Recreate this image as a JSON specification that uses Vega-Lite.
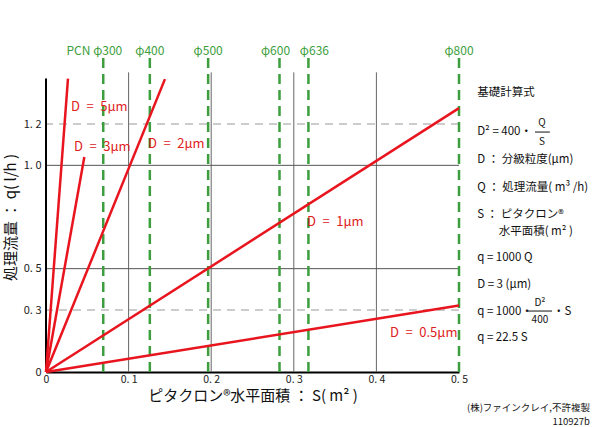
{
  "$schema": "https://vega.github.io/schema/vega-lite/v6.json",
  "width": 413,
  "height": 310,
  "autosize": {"type": "none"},
  "padding": {"left": 46, "top": 62, "right": 141, "bottom": 55},
  "background": "white",
  "config": {
    "view": {"stroke": null},
    "font": "Noto Sans CJK JP",
    "text": {"font": "Noto Sans CJK JP"}
  },
  "datasets": {
    "lines": [
      {"D": "5", "S": 0, "q": 0}, {"D": "5", "S": 0.0266, "q": 1.42},
      {"D": "3", "S": 0, "q": 0}, {"D": "3", "S": 0.0464, "q": 1.04},
      {"D": "2", "S": 0, "q": 0}, {"D": "2", "S": 0.144, "q": 1.417},
      {"D": "1", "S": 0, "q": 0}, {"D": "1", "S": 0.5, "q": 1.277},
      {"D": "0.5", "S": 0, "q": 0}, {"D": "0.5", "S": 0.5, "q": 0.322}
    ],
    "lineLabels": [
      {"label": "D\u2002=\u20025μm", "S": 0.0303, "q": 1.282},
      {"label": "D\u2002=\u20023μm", "S": 0.0339, "q": 1.089},
      {"label": "D\u2002=\u20022μm", "S": 0.1235, "q": 1.103},
      {"label": "D\u2002=\u20021μm", "S": 0.316, "q": 0.726},
      {"label": "D\u2002=\u20020.5μm", "S": 0.4165, "q": 0.189}
    ],
    "pcn": [
      {"name": "φ300", "S": 0.0693},
      {"name": "φ400", "S": 0.1257},
      {"name": "φ500", "S": 0.1963},
      {"name": "φ600", "S": 0.2827},
      {"name": "φ636", "S": 0.3177},
      {"name": "φ800", "S": 0.5}
    ],
    "notes": [
      {"t": "基礎計算式", "S": 0.522, "q": 1.35},
      {"t": "D² = 400・", "S": 0.522, "q": 1.161},
      {"t": "D ： 分級粒度(μm)", "S": 0.522, "q": 1.026},
      {"t": "Q ： 処理流量( m³ /h)", "S": 0.522, "q": 0.89},
      {"t": "S ： ピタクロン®", "S": 0.522, "q": 0.76},
      {"t": "水平面積( m² )", "S": 0.548, "q": 0.677},
      {"t": "q = 1000 Q", "S": 0.522, "q": 0.552},
      {"t": "D = 3 (μm)", "S": 0.522, "q": 0.421},
      {"t": "q = 1000・", "S": 0.522, "q": 0.29},
      {"t": "・S", "S": 0.6138, "q": 0.29},
      {"t": "q = 22.5 S", "S": 0.522, "q": 0.164}
    ],
    "fracs": [
      {"t": "Q", "S": 0.6005, "q": 1.207},
      {"t": "S", "S": 0.6005, "q": 1.115},
      {"t": "D²", "S": 0.598, "q": 0.333},
      {"t": "400", "S": 0.598, "q": 0.254}
    ],
    "bars": [
      {"S": 0.592, "S2": 0.61, "q": 1.161},
      {"S": 0.5835, "S2": 0.6126, "q": 0.295}
    ],
    "credits": [
      {"t": "(株)ファインクレイ,不許複製", "S": 0.6586, "q": -0.176},
      {"t": "110927b", "S": 0.6586, "q": -0.24}
    ],
    "gridSolid": [{"q": 1.0}, {"q": 0.5}],
    "gridDashed": [{"q": 1.2}, {"q": 0.3}],
    "gridV": [{"S": 0.1}, {"S": 0.2}, {"S": 0.3}, {"S": 0.4}]
  },
  "layer": [
    {
      "data": {"name": "gridV"},
      "mark": {"type": "rule", "color": "#666666", "strokeWidth": 1},
      "encoding": {
        "x": {"field": "S", "type": "quantitative", "scale": {"domain": [0, 0.5], "nice": false},
          "axis": {
            "values": [0, 0.1, 0.2, 0.3, 0.4, 0.5],
            "labelExpr": "datum.value == 0 ? '0' : replace(format(datum.value, '.1f'), '.', '. ')",
            "ticks": false, "grid": false,
            "domainColor": "#000000", "domainWidth": 2,
            "labelFontSize": 10.5, "labelColor": "#222222", "labelPadding": 2,
            "labelFlush": false,
            "title": "ピタクロン®水平面積 ： S( m² )",
            "titleFontSize": 15, "titleFontWeight": "normal", "titleColor": "#111111", "titlePadding": 4
          }},
        "y": {"datum": 0, "type": "quantitative", "scale": {"domain": [0, 1.5], "nice": false},
          "axis": {
            "values": [0, 0.3, 0.5, 1.0, 1.2],
            "labelExpr": "datum.value == 0 ? '0' : replace(format(datum.value, '.1f'), '.', '. ')",
            "ticks": false, "grid": false, "domain": false,
            "labelFontSize": 11, "labelColor": "#222222", "labelPadding": 5,
            "labelFlush": false,
            "title": "処理流量 ： q( l/h )",
            "titleFontSize": 15, "titleFontWeight": "normal", "titleColor": "#111111", "titlePadding": 5
          }},
        "y2": {"datum": 1.45}
      }
    },
    {
      "data": {"name": "gridSolid"},
      "mark": {"type": "rule", "color": "#555555", "strokeWidth": 1},
      "encoding": {"y": {"field": "q", "type": "quantitative"}}
    },
    {
      "data": {"name": "gridDashed"},
      "mark": {"type": "rule", "color": "#999999", "strokeWidth": 1, "strokeDash": [8, 6]},
      "encoding": {"y": {"field": "q", "type": "quantitative"}}
    },
    {
      "data": {"values": [{"a": 1}]},
      "mark": {"type": "rule", "color": "#000000", "strokeWidth": 2},
      "encoding": {"x": {"datum": 0, "type": "quantitative"}, "y": {"datum": 0, "type": "quantitative"}, "y2": {"datum": 1.42}}
    },
    {
      "data": {"name": "pcn"},
      "mark": {"type": "rule", "color": "#3c9e3c", "strokeWidth": 2.5, "strokeDash": [10, 6]},
      "encoding": {"x": {"field": "S", "type": "quantitative"}, "y": {"datum": 0, "type": "quantitative"}, "y2": {"datum": 1.52}}
    },
    {
      "data": {"name": "pcn"},
      "transform": [{"filter": "indexof(['φ400', 'φ500', 'φ800'], datum.name) >= 0"}],
      "mark": {"type": "text", "color": "#3c9e3c", "fontSize": 12, "align": "center", "baseline": "middle"},
      "encoding": {"x": {"field": "S", "type": "quantitative"}, "y": {"datum": 1.553, "type": "quantitative"}, "text": {"field": "name"}}
    },
    {
      "data": {"name": "pcn"},
      "transform": [{"filter": "datum.name == 'φ600'"}],
      "mark": {"type": "text", "color": "#3c9e3c", "fontSize": 12, "align": "center", "baseline": "middle", "dx": -4},
      "encoding": {"x": {"field": "S", "type": "quantitative"}, "y": {"datum": 1.553, "type": "quantitative"}, "text": {"field": "name"}}
    },
    {
      "data": {"name": "pcn"},
      "transform": [{"filter": "datum.name == 'φ636'"}],
      "mark": {"type": "text", "color": "#3c9e3c", "fontSize": 12, "align": "center", "baseline": "middle", "dx": 6},
      "encoding": {"x": {"field": "S", "type": "quantitative"}, "y": {"datum": 1.553, "type": "quantitative"}, "text": {"field": "name"}}
    },
    {
      "data": {"name": "pcn"},
      "transform": [{"filter": "datum.name == 'φ300'"}, {"calculate": "'PCN ' + datum.name", "as": "lab"}],
      "mark": {"type": "text", "color": "#3c9e3c", "fontSize": 12, "align": "right", "baseline": "middle", "dx": 19},
      "encoding": {"x": {"field": "S", "type": "quantitative"}, "y": {"datum": 1.553, "type": "quantitative"}, "text": {"field": "lab"}}
    },
    {
      "data": {"name": "lines"},
      "mark": {"type": "line", "color": "#e8141e", "strokeWidth": 2.5},
      "encoding": {"x": {"field": "S", "type": "quantitative"}, "y": {"field": "q", "type": "quantitative"}, "detail": {"field": "D"}}
    },
    {
      "data": {"name": "lineLabels"},
      "mark": {"type": "text", "color": "#e0201c", "fontSize": 13, "align": "left", "baseline": "middle"},
      "encoding": {"x": {"field": "S", "type": "quantitative"}, "y": {"field": "q", "type": "quantitative"}, "text": {"field": "label"}}
    },
    {
      "data": {"name": "notes"},
      "mark": {"type": "text", "color": "#111111", "fontSize": 11.5, "align": "left", "baseline": "middle"},
      "encoding": {"x": {"field": "S", "type": "quantitative"}, "y": {"field": "q", "type": "quantitative"}, "text": {"field": "t"}}
    },
    {
      "data": {"name": "fracs"},
      "mark": {"type": "text", "color": "#111111", "fontSize": 10, "align": "center", "baseline": "middle"},
      "encoding": {"x": {"field": "S", "type": "quantitative"}, "y": {"field": "q", "type": "quantitative"}, "text": {"field": "t"}}
    },
    {
      "data": {"name": "bars"},
      "mark": {"type": "rule", "color": "#111111", "strokeWidth": 1},
      "encoding": {"x": {"field": "S", "type": "quantitative"}, "x2": {"field": "S2"}, "y": {"field": "q", "type": "quantitative"}}
    },
    {
      "data": {"name": "credits"},
      "mark": {"type": "text", "color": "#111111", "fontSize": 9.5, "align": "right", "baseline": "middle"},
      "encoding": {"x": {"field": "S", "type": "quantitative"}, "y": {"field": "q", "type": "quantitative"}, "text": {"field": "t"}}
    }
  ]
}
